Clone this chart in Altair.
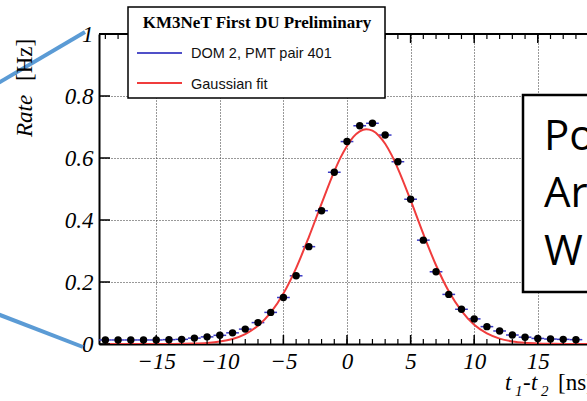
import altair as alt
import pandas as pd

# ---- data ----
t_centers = list(range(-19, 19))
rates = [0.013, 0.013, 0.013, 0.013, 0.013, 0.014, 0.015, 0.019, 0.023, 0.028,
         0.036, 0.048, 0.069, 0.102, 0.150, 0.220, 0.314, 0.430, 0.554, 0.653,
         0.704, 0.712, 0.674, 0.588, 0.467, 0.335, 0.233, 0.160, 0.112, 0.081,
         0.056, 0.042, 0.029, 0.022, 0.018, 0.016, 0.015, 0.014]
bin_half_width = 0.5

fit_t = [-19, -18, -17, -16, -15, -14, -13, -12, -11, -10, -9, -8, -7, -6, -5, -4,
         -3, -2, -1, -0.5, 0, 0.5, 1, 1.5, 2, 2.5, 3, 3.5, 4, 5, 6, 7, 8, 9, 10, 11,
         12, 13, 14, 15, 16, 17, 18, 19]
fit_rate = [0.0, 0.0, 0.0, 0.0001, 0.0001, 0.0002, 0.0006, 0.0014, 0.0034, 0.0077,
            0.0162, 0.032, 0.059, 0.101, 0.163, 0.245, 0.345, 0.453, 0.557, 0.602,
            0.639, 0.668, 0.686, 0.693, 0.688, 0.672, 0.646, 0.610, 0.566, 0.464,
            0.355, 0.254, 0.170, 0.107, 0.062, 0.034, 0.0174, 0.0083, 0.0037,
            0.0015, 0.0006, 0.0002, 0.0001, 0.0]

x_major = [-15, -10, -5, 0, 5, 10, 15]
x_minor = list(range(-19, 19))
y_major = [0, 0.2, 0.4, 0.6, 0.8, 1.0]

legend_title = "KM3NeT First DU Preliminary"
legend_entries = ["DOM 2, PMT pair 401", "Gaussian fit"]
box_words = ["Po", "Ar", "W"]

# ---- layout ----
W, H = 488, 310
X_DOMAIN = [-19.5, 18.87]
SERIF = "Liberation Serif"
SANS = "Liberation Sans"
BLUE = "#3a3ac4"
RED = "#f03c3c"
CALLOUT = "#5b9bd5"

pts = pd.DataFrame({"t": t_centers, "rate": rates})
pts["lo"] = pts["t"] - bin_half_width
pts["hi"] = pts["t"] + bin_half_width
fit = pd.DataFrame({"t": fit_t, "rate": fit_rate})
one = pd.DataFrame({"k": [0]})

xscale = alt.Scale(domain=X_DOMAIN, nice=False, zero=False)
yscale = alt.Scale(domain=[0, 1], nice=False, zero=False)

x_axis = alt.Axis(values=x_major, title=None, ticks=False, grid=True,
                  gridDash=[1, 2], gridColor="#333", gridWidth=1,
                  domainColor="black", domainWidth=2,
                  labelFont=SERIF, labelFontStyle="italic", labelFontSize=23,
                  labelColor="black", labelPadding=6,
                  labelExpr="datum.value < 0 ? '\u2212' + abs(datum.value) : '' + datum.value")
y_axis = alt.Axis(values=y_major, title=None, ticks=False, grid=True,
                  gridDash=[1, 2], gridColor="#333", gridWidth=1,
                  domainColor="black", domainWidth=2,
                  labelFont=SERIF, labelFontStyle="italic", labelFontSize=23,
                  labelColor="black", labelPadding=6,
                  labelExpr="datum.value == 0 ? '0' : datum.value == 1 ? '1' : format(datum.value, '.1f')")

axes_layer = alt.Chart(pts).mark_circle(size=0, opacity=0).encode(
    x=alt.X("t:Q", scale=xscale, axis=x_axis),
    y=alt.Y("rate:Q", scale=yscale, axis=y_axis),
)

# callout lines
call1 = alt.Chart(one).mark_rule(color=CALLOUT, strokeWidth=4).encode(
    x=alt.value(-105), y=alt.value(51.5), x2=alt.value(-14), y2=alt.value(-2))
call2 = alt.Chart(one).mark_rule(color=CALLOUT, strokeWidth=4).encode(
    x=alt.value(-105), y=alt.value(278.7), x2=alt.value(-16), y2=alt.value(313))

# frame top line and inward ticks
top_line = alt.Chart(one).mark_rule(color="black", strokeWidth=2).encode(
    x=alt.value(0), x2=alt.value(W + 20), y=alt.value(0))
xmin_df = pd.DataFrame({"t": x_minor})
xmaj_df = pd.DataFrame({"t": x_major})
ymaj_df = pd.DataFrame({"v": y_major})
tick_bot_min = alt.Chart(xmin_df).mark_rule(color="black", strokeWidth=1.2).encode(
    x=alt.X("t:Q", scale=xscale), y=alt.value(H), y2=alt.value(H - 5))
tick_bot_maj = alt.Chart(xmaj_df).mark_rule(color="black", strokeWidth=1.5).encode(
    x=alt.X("t:Q", scale=xscale), y=alt.value(H), y2=alt.value(H - 9))
tick_top_min = alt.Chart(xmin_df).mark_rule(color="black", strokeWidth=1.2).encode(
    x=alt.X("t:Q", scale=xscale), y=alt.value(0), y2=alt.value(5))
tick_top_maj = alt.Chart(xmaj_df).mark_rule(color="black", strokeWidth=1.5).encode(
    x=alt.X("t:Q", scale=xscale), y=alt.value(0), y2=alt.value(9))
tick_left = alt.Chart(ymaj_df).mark_rule(color="black", strokeWidth=1.5).encode(
    y=alt.Y("v:Q", scale=yscale), x=alt.value(0), x2=alt.value(11))

# data
errbars = alt.Chart(pts).mark_rule(color=BLUE, strokeWidth=1.5).encode(
    x=alt.X("lo:Q", scale=xscale), x2="hi:Q", y=alt.Y("rate:Q", scale=yscale))
fit_line = alt.Chart(fit).mark_line(color=RED, strokeWidth=2, interpolate="monotone",
                                    clip=True).encode(
    x=alt.X("t:Q", scale=xscale), y=alt.Y("rate:Q", scale=yscale))
points = alt.Chart(pts).mark_circle(size=55, color="black", opacity=1).encode(
    x=alt.X("t:Q", scale=xscale), y=alt.Y("rate:Q", scale=yscale))

# legend box
leg_box = alt.Chart(one).mark_rect(fill="white", stroke="black", strokeWidth=1.5).encode(
    x=alt.value(29), x2=alt.value(286), y=alt.value(-27), y2=alt.value(64))
leg_title = alt.Chart(one).mark_text(text=legend_title, font=SERIF, fontWeight="bold",
                                     fontSize=17, color="black", align="center",
                                     baseline="alphabetic").encode(
    x=alt.value(158), y=alt.value(-6))
leg_l1 = alt.Chart(one).mark_rule(color="#5050c8", strokeWidth=2).encode(
    x=alt.value(38), x2=alt.value(83), y=alt.value(19))
leg_l2 = alt.Chart(one).mark_rule(color=RED, strokeWidth=2).encode(
    x=alt.value(38), x2=alt.value(83), y=alt.value(49))
leg_t1 = alt.Chart(one).mark_text(text=legend_entries[0], font=SANS, fontSize=14.5,
                                  color="#111", align="left", baseline="alphabetic").encode(
    x=alt.value(92), y=alt.value(24))
leg_t2 = alt.Chart(one).mark_text(text=legend_entries[1], font=SANS, fontSize=14.5,
                                  color="#111", align="left", baseline="alphabetic").encode(
    x=alt.value(92), y=alt.value(55))

# "Po Ar W" box
pbox = alt.Chart(one).mark_rect(fill="white", stroke="black", strokeWidth=2.5).encode(
    x=alt.value(424), x2=alt.value(520), y=alt.value(61), y2=alt.value(258))
pwords = []
for word, yb in zip(box_words, [116, 173, 231]):
    pwords.append(alt.Chart(one).mark_text(text=word, font="Open Sans", fontSize=42,
                                           color="black", align="left",
                                           baseline="alphabetic").encode(
        x=alt.value(445), y=alt.value(yb)))

# axis titles
ytitle_rate = alt.Chart(one).mark_text(text="Rate", font=SERIF, fontStyle="italic",
                                       fontSize=23, angle=270, align="left",
                                       baseline="middle", color="black").encode(
    x=alt.value(-74), y=alt.value(103))
ytitle_unit = alt.Chart(one).mark_text(text="[Hz]", font=SERIF, fontSize=23, angle=270,
                                       align="left", baseline="middle",
                                       color="black").encode(
    x=alt.value(-74), y=alt.value(47))
xt = []
for txt, xx, yy, fs, st in [("t", 406, 356, 23, "italic"), ("1", 416, 362, 15, "italic"),
                            ("-", 424, 356, 23, "normal"), ("t", 432, 356, 23, "italic"),
                            ("2", 442, 362, 15, "italic"), ("[ns]", 459, 356, 23, "normal")]:
    xt.append(alt.Chart(one).mark_text(text=txt, font=SERIF, fontStyle=st, fontSize=fs,
                                       color="black", align="left",
                                       baseline="alphabetic").encode(
        x=alt.value(xx), y=alt.value(yy)))

chart = alt.layer(
    axes_layer, errbars, fit_line, points,
    top_line, tick_bot_min, tick_bot_maj, tick_top_min, tick_top_maj, tick_left,
    call1, call2,
    leg_box, leg_title, leg_l1, leg_l2, leg_t1, leg_t2,
    pbox, *pwords,
    ytitle_rate, ytitle_unit, *xt,
).properties(
    width=W, height=H,
    autosize=alt.AutoSizeParams(type="none"),
    padding={"left": 99, "top": 34, "right": 0, "bottom": 57},
    background="white",
).configure_view(stroke=None)

chart.save("out.html", embed_options={"renderer": "svg", "actions": False})
